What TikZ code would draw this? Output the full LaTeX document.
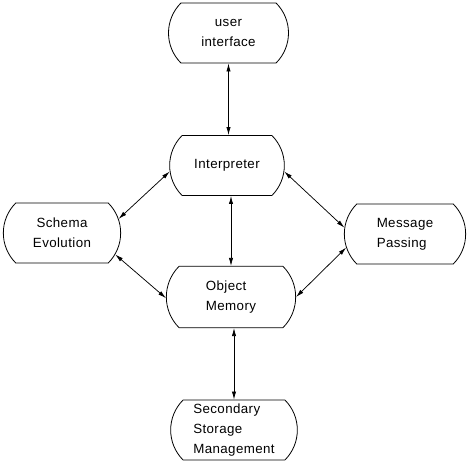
\documentclass[tikz,border=0pt]{standalone}
\usepackage{fontspec}
\setmainfont{Liberation Sans}[LetterSpace=3]
\usetikzlibrary{shapes.misc,arrows.meta}

\tikzstyle{Block}=[rounded rectangle,rounded rectangle arc length=90,draw=black,
  line width=0.6pt,align=center,inner sep=1pt,minimum height=45pt,minimum width=90pt,
  font=\fontsize{10}{15}\selectfont]
\tikzstyle{ArrowObject}=[black,line width=0.55pt,{Latex[length=6pt,width=3.2pt]}-{Latex[length=6pt,width=3.2pt]}]

\begin{document}
\begin{tikzpicture}[x=0.75pt, y=-0.75pt]
		\useasboundingbox (0,0) rectangle (472,461);
		
		% Top: user interface
		\draw(228.5,33) node[Block,minimum width=92pt] (UserIface) {user\\interface};
		
		% Middle row
		\draw(227,165.5) node[Block,minimum width=88pt] (Interp) {Interpreter};
		\draw(62,233) node[Block] (SchemaEvol) {Schema\\Evolution};
		\draw(405,234) node[Block,minimum width=93pt,align=left] (MsgPass) {Message\\Passing};
		\draw(231,297) node[Block,minimum width=99pt,minimum height=46pt,align=left] (ObjMem) {Object\\Memory};
		
		% Bottom: storage
		\draw(234,430) node[Block,minimum width=97pt,align=left] (SecStorage) {Secondary\\Storage\\Management};
		
		% Arrows
		\draw[ArrowObject] (UserIface.south) -- (UserIface.south |- Interp.north);
		\draw[ArrowObject] (ObjMem.north |- Interp.south) -- (ObjMem.north);
		\draw[ArrowObject] (SecStorage.north |- ObjMem.south) -- (SecStorage.north);
		\draw[ArrowObject] (SchemaEvol.14) -- (Interp.186);
		\draw[ArrowObject] (SchemaEvol.338) -- (ObjMem.181);
		\draw[ArrowObject] (Interp.354) -- (MsgPass.174);
		\draw[ArrowObject] (MsgPass.193) -- (ObjMem.0);
		
	\end{tikzpicture}
\end{document}
